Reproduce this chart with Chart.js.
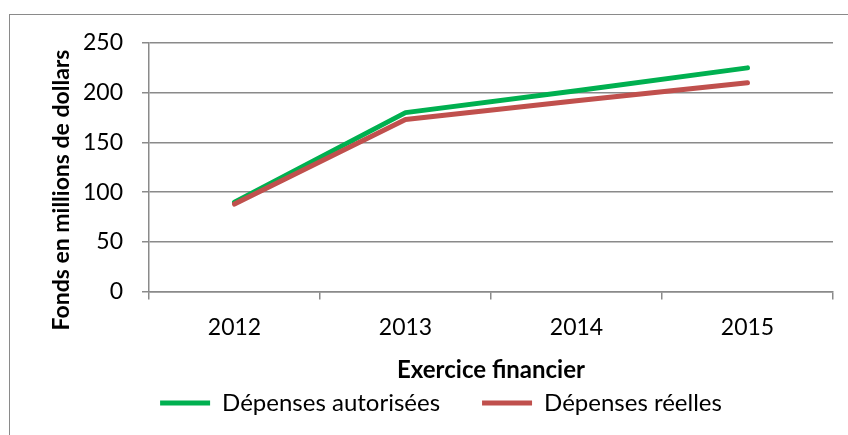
<!DOCTYPE html>
<html>
<head>
<meta charset="utf-8">
<script src="https://cdn.jsdelivr.net/npm/chart.js"></script>
<style>
  html, body { margin: 0; padding: 0; background: #fff; overflow: hidden; }
  #frame { position: absolute; left: 9px; top: 14px; width: 900px; height: 500px; border: 1.5px solid #8a8a8a; }
  #wrap { position: absolute; left: 0; top: 0; width: 848px; height: 435px; }
</style>
</head>
<body>
<div id="frame"></div>
<div id="wrap"><canvas id="chart"></canvas></div>
<script>
const years = ["2012", "2013", "2014", "2015"]
const autorisees = [90, 180, 202, 225]
const reelles = [88, 173, 192, 210]
const yMin = 0
const yMax = 250
const yStep = 50
const yTitle = "Fonds en millions de dollars"
const xTitle = "Exercice financier"

const gridColor = "#8a8a8a"
const font = "Lato, 'Open Sans', sans-serif"

// y title is drawn by hand: Excel puts it lower than the axis centre
const yTitlePlugin = {
  id: "yTitle",
  afterDraw: (chart) => {
    const { ctx } = chart
    ctx.save()
    ctx.translate(62, 190)
    ctx.rotate(-Math.PI / 2)
    ctx.font = `bold 23px ${font}`
    ctx.fillStyle = "#000"
    ctx.textAlign = "center"
    ctx.textBaseline = "middle"
    ctx.fillText(yTitle, 0, 0)
    ctx.restore()
  },
}

new Chart(document.getElementById("chart"), {
  type: "line",
  data: {
    labels: years,
    datasets: [
      {
        label: "Dépenses autorisées",
        data: autorisees,
        borderColor: "#00B050",
        backgroundColor: "#00B050",
        borderWidth: 5,
        borderCapStyle: "round",
        borderJoinStyle: "round",
        pointRadius: 0,
        tension: 0,
        order: 1,
      },
      {
        label: "Dépenses réelles",
        data: reelles,
        borderColor: "#C0504D",
        backgroundColor: "#C0504D",
        borderWidth: 5,
        borderCapStyle: "round",
        borderJoinStyle: "round",
        pointRadius: 0,
        tension: 0,
        order: 0,
      },
    ],
  },
  plugins: [yTitlePlugin],
  options: {
    responsive: true,
    maintainAspectRatio: false,
    animation: false,
    layout: { padding: { left: 49, right: 15, top: 43, bottom: 10 } },
    plugins: {
      tooltip: { enabled: false },
      legend: {
        position: "bottom",
        labels: {
          usePointStyle: true,
          pointStyle: "line",
          pointStyleWidth: 50,
          boxWidth: 50,
          boxHeight: 5,
          padding: 42,
          color: "#000",
          font: { family: font, size: 24 },
          sort: (a, b) => a.datasetIndex - b.datasetIndex,
        },
      },
    },
    scales: {
      x: {
        offset: true,
        grid: { offset: true, drawOnChartArea: false, color: gridColor, lineWidth: 1.5, tickLength: 8 },
        border: { color: gridColor, width: 1.5 },
        ticks: { color: "#000", padding: 14, font: { family: font, size: 23 } },
        title: {
          display: true,
          text: xTitle,
          color: "#000",
          padding: { top: 1, bottom: -36 },
          font: { family: font, size: 24, weight: "bold" },
        },
      },
      y: {
        min: yMin,
        max: yMax,
        ticks: { stepSize: yStep, color: "#000", padding: 19, font: { family: font, size: 23 } },
        grid: { color: gridColor, lineWidth: 1.5, tickLength: 7 },
        border: { color: gridColor, width: 1.5 },
        afterFit: (scale) => { scale.width = 100 },
      },
    },
  },
})
</script>
</body>
</html>
